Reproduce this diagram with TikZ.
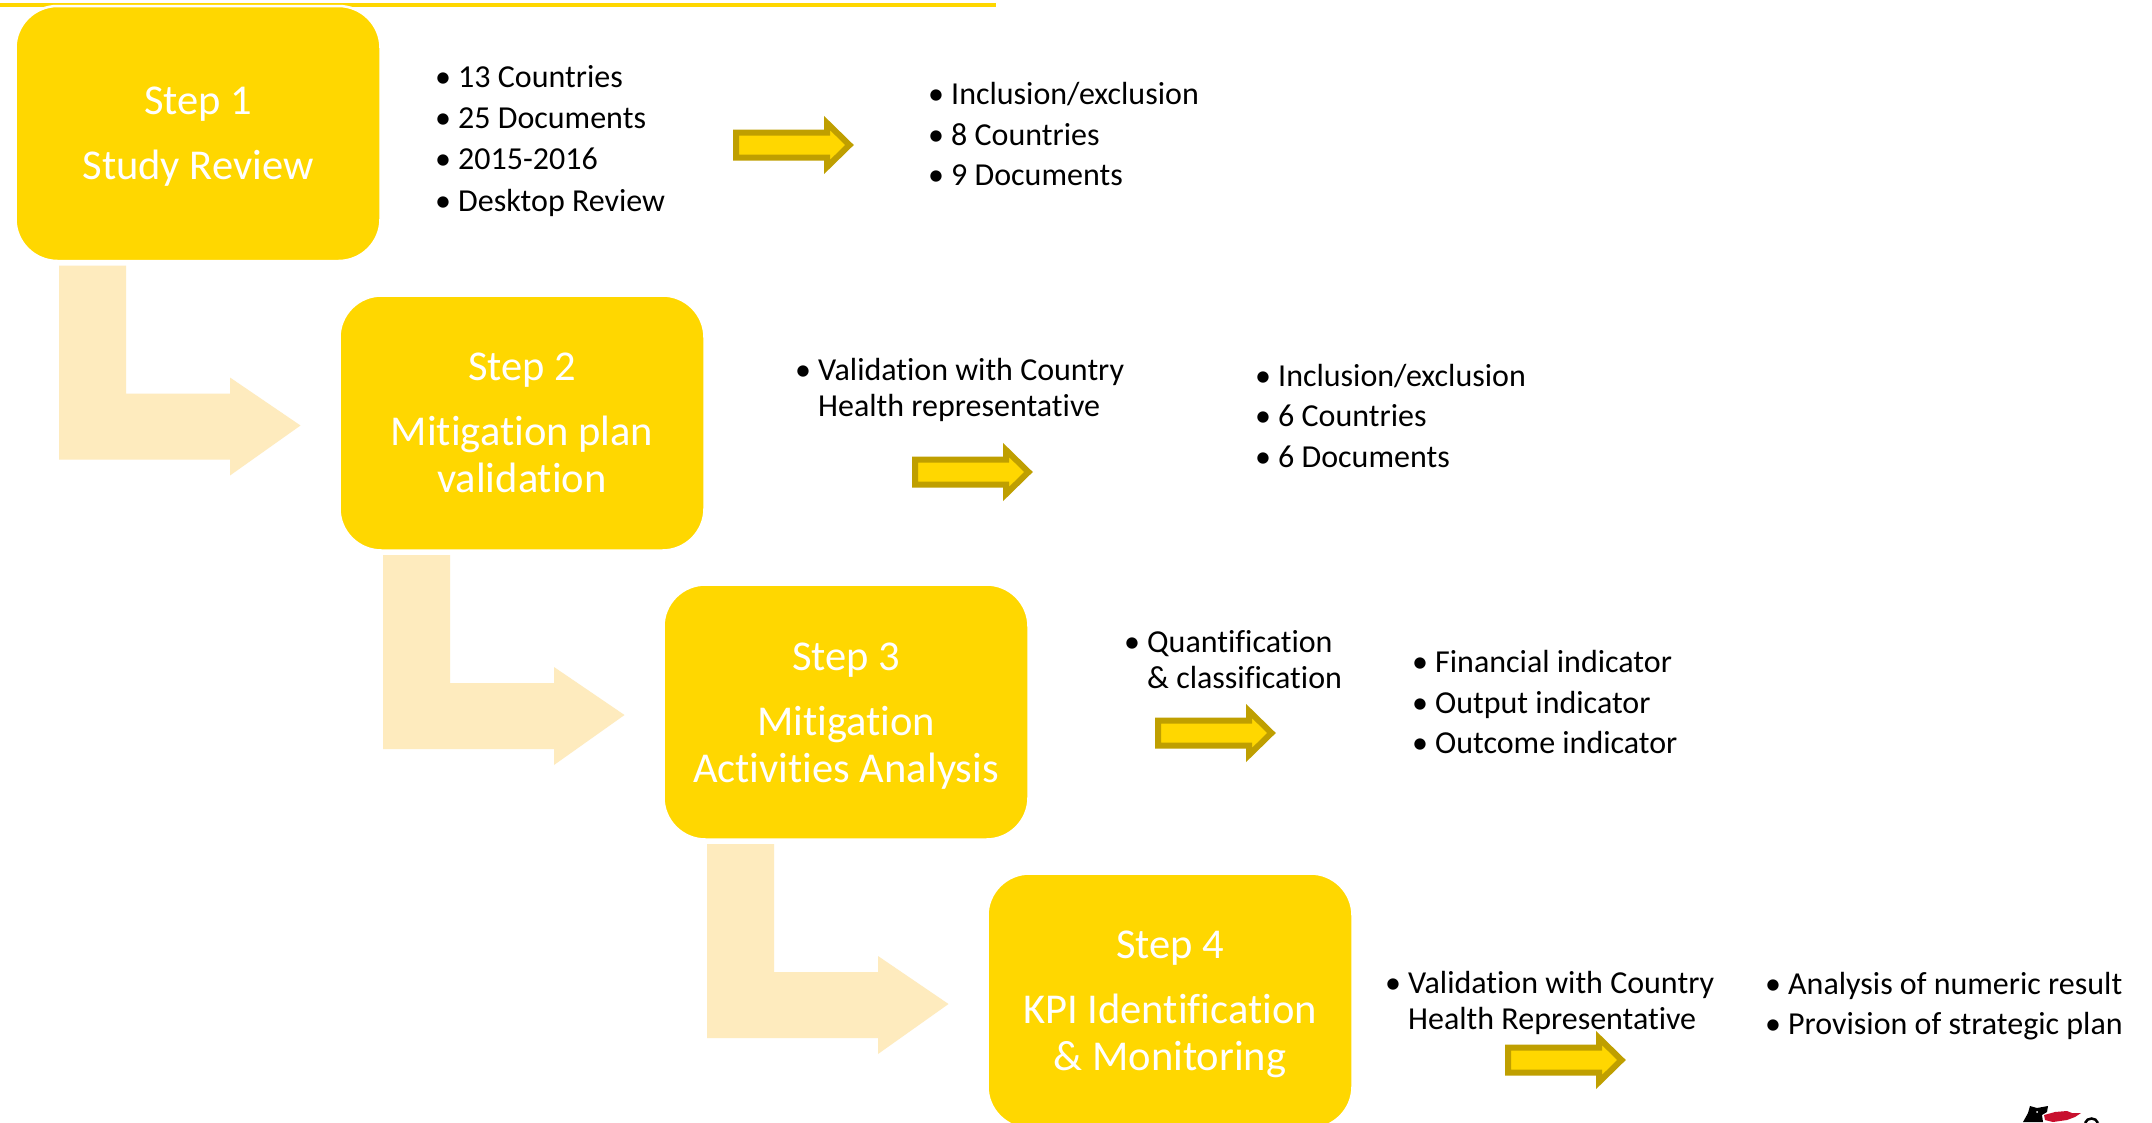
\documentclass[tikz,border=0pt]{standalone}
\usepackage{fontspec}
\setmainfont{Carlito}[Ligatures=CommonOff]
\definecolor{stepyellow}{HTML}{FFD700}
\definecolor{bentcol}{HTML}{FEEBBE}
\definecolor{arrowedge}{HTML}{BF9F00}
\definecolor{logored}{HTML}{C8102E}
\newcommand\li[1]{\makebox[23pt][l]{\textbullet}#1\\}
\newcommand\lc[1]{\hspace*{23pt}#1\\}
\newcommand\bentarrow[1]{%
  \fill[bentcol,shift={(#1.south west)}] (43.5,4.5) -- (110.5,4.5) -- (110.5,132.5) -- (214.5,132.5) -- (214.5,116.5) -- (285,164.5) -- (214.5,214.5) -- (214.5,198.5) -- (43.5,198.5) -- cycle;}
\tikzset{
  x=1pt,y=-1pt,
  stepbox/.style={fill=stepyellow,draw=white,line width=2.5pt,rounded corners=42pt,minimum width=365pt,minimum height=255pt,inner sep=0pt,outer sep=0pt,
    text=white,align=center,font=\fontsize{42.5}{47}\selectfont},
  listnode/.style={anchor=base west,inner sep=0pt,text=black,font=\fontsize{32}{40.6}\selectfont},
  widelist/.style={anchor=base west,inner sep=0pt,text=black,font=\fontsize{32}{41.2}\selectfont},
  tightlist/.style={anchor=base west,inner sep=0pt,text=black,font=\fontsize{32}{36}\selectfont},
  smallarrow/.pic={
    \draw[fill=stepyellow,draw=arrowedge,line width=6pt,miter limit=10]
      (3,-12.5) -- (94,-12.5) -- (94,-22) -- (116.5,0) -- (94,22) -- (94,12.5) -- (3,12.5) -- cycle;
  }
}
\begin{document}
\begin{tikzpicture}
\useasboundingbox (0,0) rectangle (2152,1122);
\clip (0,0) rectangle (2152,1122);
\fill[white] (0,0) rectangle (2152,1122);
\fill[stepyellow] (0,3) rectangle (996,7);
% step boxes
\node[stepbox] (s1) at (198,133.5) {\rule{0pt}{33pt}Step 1\\[18pt]Study Review};
\node[stepbox] (s2) at (522,423) {\rule{0pt}{28pt}Step 2\\[18pt]Mitigation plan\\validation};
\node[stepbox] (s3) at (846,712) {\rule{0pt}{35pt}Step 3\\[18pt]Mitigation\\Activities Analysis};
\node[stepbox] (s4) at (1170,1001) {\rule{0pt}{35pt}Step 4\\[18pt]KPI Identification\\\& Monitoring};
% bent arrows
\bentarrow{s1}
\bentarrow{s2}
\bentarrow{s3}
% small arrows
\pic at (733,145) {smallarrow};
\pic at (912,472) {smallarrow};
\pic at (1155,733) {smallarrow};
\pic at (1505,1060) {smallarrow};
% lists
\node[widelist] (l1) at (435,87.5) {\begin{tabular}[t]{@{}l@{}}\li{13 Countries}\li{25 Documents}\li{2015-2016}\li{Desktop Review}\end{tabular}};
\node[listnode] (l2) at (928,104.5) {\begin{tabular}[t]{@{}l@{}}\li{Inclusion/exclusion}\li{8 Countries}\li{9 Documents}\end{tabular}};
\node[tightlist] (l3) at (795,380) {\begin{tabular}[t]{@{}l@{}}\li{Validation with Country}\lc{Health representative}\end{tabular}};
\node[listnode] (l4) at (1255,386) {\begin{tabular}[t]{@{}l@{}}\li{Inclusion/exclusion}\li{6 Countries}\li{6 Documents}\end{tabular}};
\node[tightlist] (l5) at (1124,652) {\begin{tabular}[t]{@{}l@{}}\li{Quantification}\lc{\& classification}\end{tabular}};
\node[listnode] (l6) at (1412,672.5) {\begin{tabular}[t]{@{}l@{}}\li{Financial indicator}\li{Output indicator}\li{Outcome indicator}\end{tabular}};
\node[tightlist] (l7) at (1385,993) {\begin{tabular}[t]{@{}l@{}}\li{Validation with Country}\lc{Health Representative}\end{tabular}};
\node[listnode] (l8) at (1765,994) {\begin{tabular}[t]{@{}l@{}}\li{Analysis of numeric result}\li{Provision of strategic plan}\end{tabular}};
% logo fragment
\fill[black] (2023,1122) -- (2028,1113) -- (2030,1106) -- (2037,1108) -- (2048,1106) -- (2047,1112) -- (2042,1115) -- (2043,1122) -- cycle;
\fill[white] (2037,1112) circle (1);
\fill[logored] (2044,1115) -- (2055,1112) -- (2067,1111) -- (2072,1113) -- (2081,1113) -- (2075,1117) -- (2067,1120) -- (2053,1122) -- (2045,1120) -- cycle;
\draw[black,line width=2.5pt] (2085,1123) .. controls (2087,1117) and (2096,1117) .. (2098,1123);
\end{tikzpicture}
\end{document}
